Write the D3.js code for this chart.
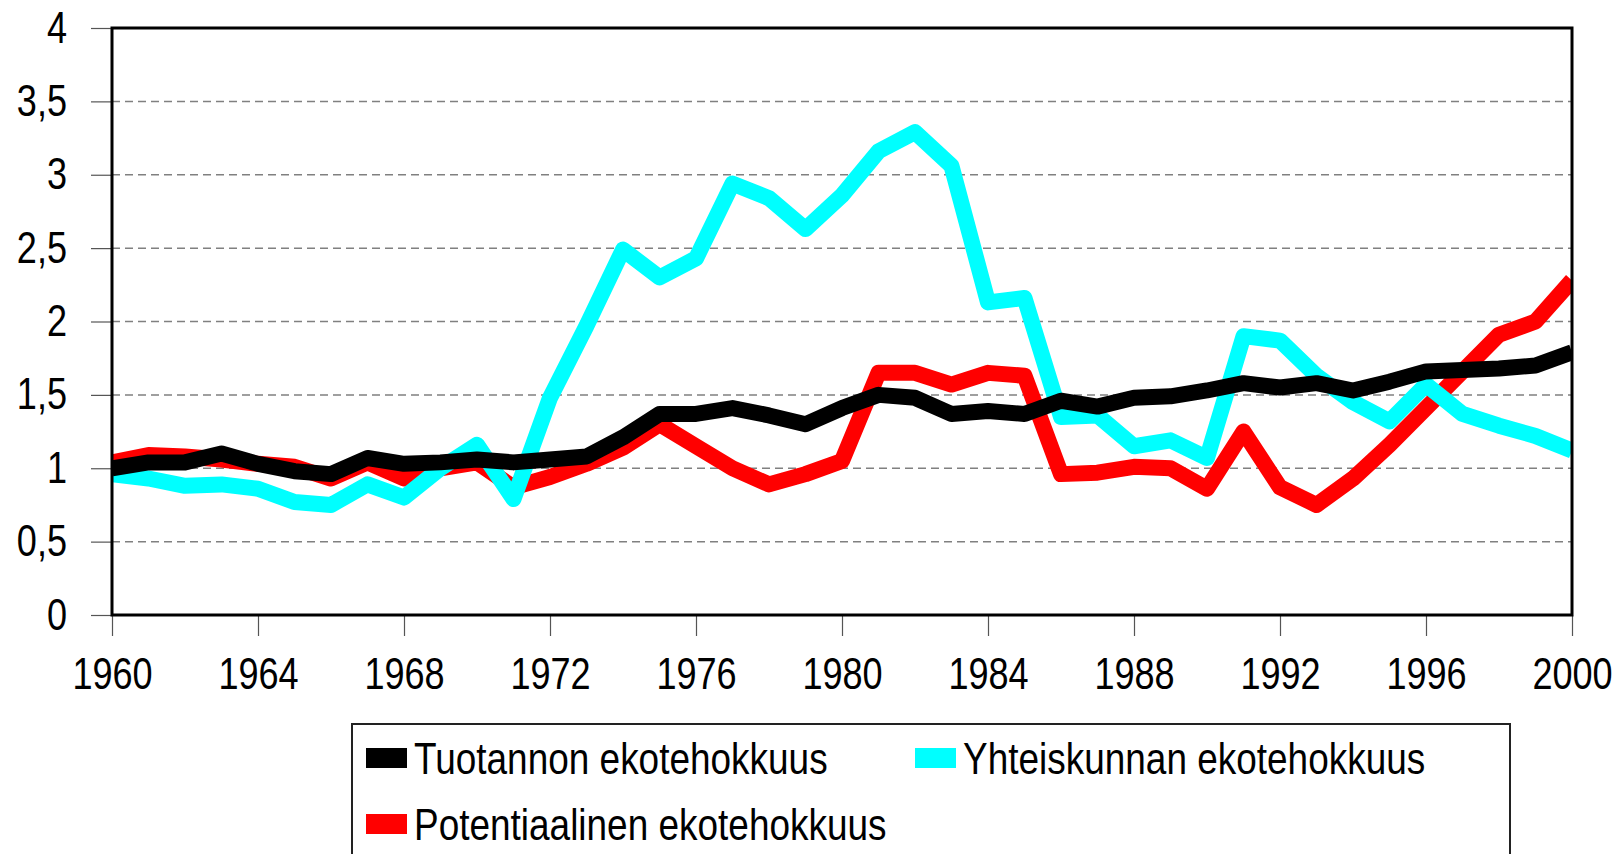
<!DOCTYPE html>
<html>
<head>
<meta charset="utf-8">
<script src="https://cdn.jsdelivr.net/npm/d3@7"></script>
<style>
	body { margin: 0; background: #fff; }
	svg text { font-family: "Liberation Sans", Arial, sans-serif; font-size: 44px; fill: #000; }
</style>
</head>
<body>
<svg id="chart" width="1620" height="854"></svg>
<script>

const years = d3.range(1960, 2001)

const tuotannon = [1.00, 1.04, 1.04, 1.10, 1.03, 0.98, 0.96, 1.07, 1.03, 1.04,
	1.06, 1.04, 1.06, 1.08, 1.21, 1.37, 1.37, 1.41, 1.36, 1.30,
	1.41, 1.50, 1.48, 1.37, 1.39, 1.37, 1.46, 1.42, 1.48, 1.49,
	1.53, 1.58, 1.55, 1.58, 1.53, 1.59, 1.66, 1.67, 1.68, 1.70, 1.79]

const yhteiskunnan = [0.96, 0.93, 0.88, 0.89, 0.86, 0.77, 0.75, 0.89, 0.80, 1.00,
	1.16, 0.79, 1.48, 1.97, 2.49, 2.30, 2.43, 2.94, 2.84, 2.63,
	2.86, 3.16, 3.29, 3.06, 2.13, 2.16, 1.35, 1.36, 1.15, 1.19,
	1.07, 1.90, 1.87, 1.63, 1.45, 1.32, 1.57, 1.37, 1.29, 1.22, 1.12]

const potentiaalinen = [1.04, 1.09, 1.08, 1.06, 1.03, 1.01, 0.93, 1.04, 0.93, 1.00,
	1.04, 0.87, 0.94, 1.03, 1.14, 1.30, 1.15, 1.00, 0.89, 0.96,
	1.05, 1.65, 1.65, 1.57, 1.65, 1.63, 0.96, 0.97, 1.01, 1.00,
	0.86, 1.25, 0.87, 0.75, 0.93, 1.16, 1.41, 1.66, 1.91, 2.00, 2.28]

const yTicks = [0, 0.5, 1, 1.5, 2, 2.5, 3, 3.5, 4]
const xTicks = d3.range(1960, 2001, 4)

const seriesNames = ['Tuotannon ekotehokkuus', 'Yhteiskunnan ekotehokkuus', 'Potentiaalinen ekotehokkuus']
const seriesColors = ['#000000', '#00ffff', '#ff0000']

const series = [
	{ name : seriesNames[0], color : seriesColors[0], values : tuotannon },
	{ name : seriesNames[1], color : seriesColors[1], values : yhteiskunnan },
	{ name : seriesNames[2], color : seriesColors[2], values : potentiaalinen }
]

// no narrow font installed, so squeeze the regular one
const squeeze = 0.82
const legendSqueeze = 0.84

const svg = d3.select('#chart')

const plot = { left : 112, right : 1572, top : 28, bottom : 615 }

const x = d3.scaleLinear().domain([1960, 2000]).range([plot.left, plot.right])
const y = d3.scaleLinear().domain([0, 4]).range([plot.bottom, plot.top])

const fmt = d => String(d).replace('.', ',')

// gridlines
svg.append('g')
	.selectAll('line')
	.data(yTicks.filter(d => d > 0 && d < 4))
	.enter()
	.append('line')
	.attr('x1', plot.left)
	.attr('x2', plot.right)
	.attr('y1', d => y(d))
	.attr('y2', d => y(d))
	.attr('stroke', '#808080')
	.attr('stroke-width', 1.5)
	.attr('stroke-dasharray', '8,5')

svg.append('g')
	.attr('transform', `translate(${plot.left},0)`)
	.call(d3.axisLeft(y).tickValues(yTicks).tickSize(21).tickPadding(24).tickFormat(fmt))

svg.append('g')
	.attr('transform', `translate(0,${plot.bottom})`)
	.call(d3.axisBottom(x).tickValues(xTicks).tickSize(21).tickPadding(22).tickFormat(d3.format('d')))

svg.selectAll('.domain').remove()
svg.selectAll('.tick line').attr('stroke', '#555').attr('stroke-width', 1.2)
svg.selectAll('.tick text')
	.attr('font-size', null)
	.attr('font-family', null)
	.attr('x', function() { return (+d3.select(this).attr('x') || 0) / squeeze })
	.attr('transform', `scale(${squeeze},1)`)

svg.append('clipPath')
	.attr('id', 'plot-clip')
	.append('rect')
	.attr('x', plot.left)
	.attr('y', plot.top)
	.attr('width', plot.right - plot.left)
	.attr('height', plot.bottom - plot.top)

const line = d3.line()
	.x((d, i) => x(years[i]))
	.y(d => y(d))

// red under cyan under black
const drawOrder = [2, 1, 0]

svg.append('g')
	.attr('clip-path', 'url(#plot-clip)')
	.selectAll('path')
	.data(drawOrder.map(i => series[i]))
	.enter()
	.append('path')
	.attr('d', d => line(d.values))
	.attr('fill', 'none')
	.attr('stroke', d => d.color)
	.attr('stroke-width', 16)
	.attr('stroke-linejoin', 'round')

svg.append('rect')
	.attr('x', plot.left)
	.attr('y', plot.top)
	.attr('width', plot.right - plot.left)
	.attr('height', plot.bottom - plot.top)
	.attr('fill', 'none')
	.attr('stroke', '#000')
	.attr('stroke-width', 3)

// legend
const legend = svg.append('g')

legend.append('rect')
	.attr('x', 352)
	.attr('y', 724)
	.attr('width', 1158)
	.attr('height', 160)
	.attr('fill', 'none')
	.attr('stroke', '#222')
	.attr('stroke-width', 2)

const legendPos = [[366, 748], [915, 748], [366, 814]]

const items = legend.selectAll('.legend-item')
	.data(series)
	.enter()
	.append('g')
	.attr('class', 'legend-item')
	.attr('transform', (d, i) => `translate(${legendPos[i][0]},${legendPos[i][1]})`)

items.append('rect')
	.attr('width', 41)
	.attr('height', 20)
	.attr('fill', d => d.color)

items.append('text')
	.attr('transform', `translate(48,26) scale(${legendSqueeze},1)`)
	.text(d => d.name)

</script>
</body>
</html>
